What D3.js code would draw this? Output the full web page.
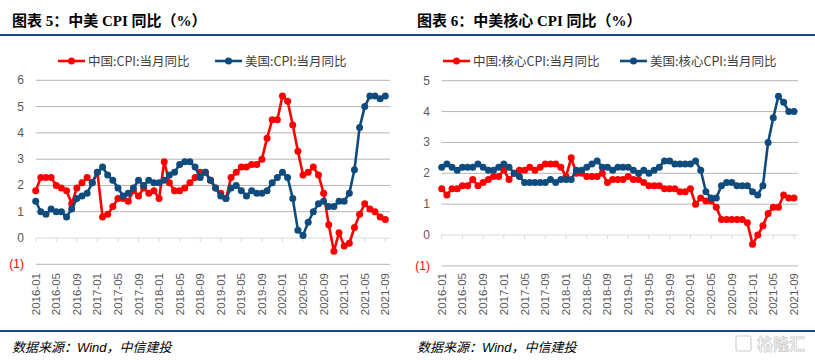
<!DOCTYPE html>
<html>
<head>
<meta charset="utf-8">
<script src="https://cdn.jsdelivr.net/npm/d3@7.9.0/dist/d3.min.js"></script>
<style>
  body { margin: 0; background: #fff; }
  svg { display: block; }
  .title { font-family: "Liberation Serif", "Noto Sans CJK SC", serif; font-weight: bold; font-size: 15px; fill: #000; }
  .legend text { font-family: "Noto Sans CJK SC", sans-serif; font-size: 12.5px; fill: #404040; }
  .source { font-family: "Liberation Sans", "Noto Sans CJK SC", sans-serif; font-style: italic; font-size: 13px; fill: #000; }
  .ylab { font-family: "Liberation Sans", sans-serif; font-size: 12px; fill: #595959; }
  .xlab { font-family: "Liberation Sans", sans-serif; font-size: 11.5px; fill: #595959; }
</style>
</head>
<body>
<svg id="chart" width="815" height="360"></svg>
<script>
// months 2016-01 .. 2021-09
const months = d3.timeMonth.range(new Date(2016, 0, 1), new Date(2021, 9, 1)).map(d3.timeFormat('%Y-%m'));

// 图表5
const cnCpi = [1.8, 2.3, 2.3, 2.3, 2.0, 1.9, 1.8, 1.3, 1.9, 2.1, 2.3, 2.1,
  2.5, 0.8, 0.9, 1.2, 1.5, 1.5, 1.4, 1.8, 1.6, 1.9, 1.7, 1.8,
  1.5, 2.9, 2.1, 1.8, 1.8, 1.9, 2.1, 2.3, 2.5, 2.5, 2.2, 1.9,
  1.7, 1.5, 2.3, 2.5, 2.7, 2.7, 2.8, 2.8, 3.0, 3.8, 4.5, 4.5,
  5.4, 5.2, 4.3, 3.3, 2.4, 2.5, 2.7, 2.4, 1.7, 0.5, -0.5, 0.2,
  -0.3, -0.2, 0.4, 0.9, 1.3, 1.1, 1.0, 0.8, 0.7];
const usCpi = [1.4, 1.0, 0.9, 1.1, 1.0, 1.0, 0.8, 1.1, 1.5, 1.6, 1.7, 2.1,
  2.5, 2.7, 2.4, 2.2, 1.9, 1.6, 1.7, 1.9, 2.2, 2.0, 2.2, 2.1,
  2.1, 2.2, 2.4, 2.5, 2.8, 2.9, 2.9, 2.7, 2.3, 2.5, 2.2, 1.9,
  1.6, 1.5, 1.9, 2.0, 1.8, 1.6, 1.8, 1.7, 1.7, 1.8, 2.1, 2.3,
  2.5, 2.3, 1.5, 0.3, 0.1, 0.6, 1.0, 1.3, 1.4, 1.2, 1.2, 1.4,
  1.4, 1.7, 2.6, 4.2, 5.0, 5.4, 5.4, 5.3, 5.4];

// 图表6
const cnCore = [1.5, 1.3, 1.5, 1.5, 1.6, 1.6, 1.8, 1.6, 1.7, 1.8, 1.9, 1.9,
  2.1, 1.8, 2.0, 2.1, 2.1, 2.2, 2.1, 2.2, 2.3, 2.3, 2.3, 2.2,
  1.9, 2.5, 2.0, 2.0, 1.9, 1.9, 1.9, 2.0, 1.7, 1.8, 1.8, 1.8,
  1.9, 1.8, 1.8, 1.7, 1.6, 1.6, 1.6, 1.5, 1.5, 1.5, 1.4, 1.4,
  1.5, 1.0, 1.2, 1.1, 1.1, 0.9, 0.5, 0.5, 0.5, 0.5, 0.5, 0.4,
  -0.3, 0.0, 0.3, 0.7, 0.9, 0.9, 1.3, 1.2, 1.2];
const usCore = [2.2, 2.3, 2.2, 2.1, 2.2, 2.2, 2.2, 2.3, 2.2, 2.1, 2.1, 2.2,
  2.3, 2.2, 2.0, 1.9, 1.7, 1.7, 1.7, 1.7, 1.7, 1.8, 1.7, 1.8,
  1.8, 1.8, 2.1, 2.1, 2.2, 2.3, 2.4, 2.2, 2.2, 2.1, 2.2, 2.2,
  2.2, 2.1, 2.0, 2.1, 2.0, 2.1, 2.2, 2.4, 2.4, 2.3, 2.3, 2.3,
  2.3, 2.4, 2.1, 1.4, 1.2, 1.2, 1.6, 1.7, 1.7, 1.6, 1.6, 1.6,
  1.4, 1.3, 1.6, 3.0, 3.8, 4.5, 4.3, 4.0, 4.0];

const ticks1 = [-1, 0, 1, 2, 3, 4, 5, 6];
const ticks2 = [-1, 0, 1, 2, 3, 4, 5];

const RED = '#ff0000', BLUE = '#0f4c7d', RULE = '#174a7c';

const svg = d3.select('#chart');

// header and footer rules
svg.append('line').attr('x1', 0).attr('x2', 815).attr('y1', 35).attr('y2', 35)
  .attr('stroke', RULE).attr('stroke-width', 2);
svg.append('line').attr('x1', 0).attr('x2', 815).attr('y1', 331).attr('y2', 331)
  .attr('stroke', RULE).attr('stroke-width', 2);

function drawPanel(p) {
  const g = svg.append('g');

  g.append('text').attr('class', 'title').attr('x', p.left).attr('y', 26).text(p.title);
  g.append('text').attr('class', 'source').attr('x', p.left).attr('y', 352).text('数据来源：Wind，中信建投');

  const x = d3.scalePoint().domain(months).range([p.x0, p.x1]);
  const y = d3.scaleLinear().domain(d3.extent(p.ticks)).range([p.yBot, p.yTop]);

  // gridlines
  g.selectAll('.grid').data(p.ticks.filter(t => t !== 0)).join('line')
    .attr('x1', p.x0).attr('x2', p.gridEnd)
    .attr('y1', d => y(d)).attr('y2', d => y(d))
    .attr('stroke', '#b5b5b5').attr('stroke-width', 1);

  // zero axis
  g.append('line').attr('x1', p.x0).attr('x2', p.gridEnd)
    .attr('y1', y(0)).attr('y2', y(0)).attr('stroke', '#d9d9d9').attr('stroke-width', 1);
  const tickMonths = months.filter((m, i) => i % 4 === 0);
  g.selectAll('.tk').data(tickMonths).join('line')
    .attr('x1', d => x(d)).attr('x2', d => x(d))
    .attr('y1', y(0)).attr('y2', y(0) + 4)
    .attr('stroke', '#d9d9d9');

  // y labels
  g.selectAll('.ylab').data(p.ticks).join('text')
    .attr('class', 'ylab')
    .attr('x', p.labelX).attr('y', d => y(d) + 4)
    .attr('text-anchor', 'end')
    .style('fill', d => d < 0 ? '#ff0000' : null)
    .text(d => d < 0 ? `(${-d})` : d);

  // x labels
  g.selectAll('.xlab').data(tickMonths).join('text')
    .attr('class', 'xlab')
    .attr('transform', d => `translate(${x(d) + 4},${p.xLabTop}) rotate(-90)`)
    .attr('text-anchor', 'end')
    .text(d => d);

  // series
  const line = d3.line().x((d, i) => x(months[i])).y(d => y(d));
  p.series.forEach(s => {
    g.append('path').datum(s.values)
      .attr('d', line).attr('fill', 'none')
      .attr('stroke', s.color).attr('stroke-width', 2.6).attr('stroke-linejoin', 'round');
    g.append('g').selectAll('circle').data(s.values).join('circle')
      .attr('cx', (d, i) => x(months[i])).attr('cy', d => y(d))
      .attr('r', 3.5).attr('fill', s.color);
  });

  // legend
  const lg = g.append('g').attr('class', 'legend');
  p.series.forEach((s, i) => {
    const lx = p.legendX[i];
    lg.append('line').attr('x1', lx).attr('x2', lx + 27).attr('y1', 61).attr('y2', 61)
      .attr('stroke', s.color).attr('stroke-width', 2.6);
    lg.append('circle').attr('cx', lx + 13.5).attr('cy', 61).attr('r', 3.5).attr('fill', s.color);
    lg.append('text').attr('x', lx + 30).attr('y', 65.5).text(s.name);
  });
}

drawPanel({
  title: '图表 5：中美 CPI 同比（%）',
  left: 12,
  x0: 35.7, x1: 385.3, gridEnd: 390,
  yTop: 80.3, yBot: 264.3,
  ticks: ticks1,
  labelX: 24,
  xLabTop: 273,
  legendX: [58, 215],
  series: [
    { name: '中国:CPI:当月同比', values: cnCpi, color: RED },
    { name: '美国:CPI:当月同比', values: usCpi, color: BLUE }
  ]
});

drawPanel({
  title: '图表 6：中美核心 CPI 同比（%）',
  left: 417,
  x0: 441.7, x1: 794, gridEnd: 798,
  yTop: 80.7, yBot: 265.9,
  ticks: ticks2,
  labelX: 430,
  xLabTop: 273,
  legendX: [443, 620],
  series: [
    { name: '中国:核心CPI:当月同比', values: cnCore, color: RED },
    { name: '美国:核心CPI:当月同比', values: usCore, color: BLUE }
  ]
});

// watermark
const wm = svg.append('g').attr('fill', 'none').attr('stroke', '#d0d0d0').attr('stroke-width', 1.2);
wm.append('rect').attr('x', 736).attr('y', 336).attr('width', 15).attr('height', 15).attr('rx', 2);
wm.append('text').attr('x', 805).attr('y', 350).attr('text-anchor', 'end')
  .style('font-family', '"Noto Sans CJK SC", sans-serif').style('font-size', '16px')
  .style('font-weight', 'bold').attr('stroke-width', 0.8)
  .text('格隆汇');
</script>
</body>
</html>
